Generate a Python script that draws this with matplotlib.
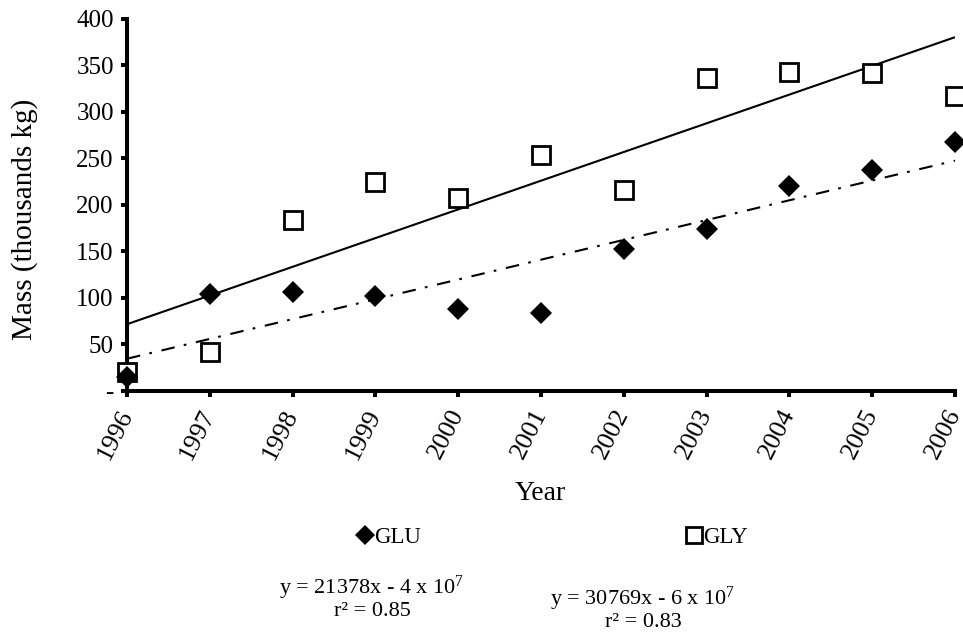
import numpy as np
import matplotlib
matplotlib.use("Agg")
import matplotlib.pyplot as plt

# ---- data ----
years = [1996, 1997, 1998, 1999, 2000, 2001, 2002, 2003, 2004, 2005, 2006]
glu = [15, 104, 106, 102, 88, 83, 152, 174, 220, 237, 267]
gly = [20, 42, 183, 224, 207, 253, 216, 336, 343, 341, 317]
ytick_vals = [0, 50, 100, 150, 200, 250, 300, 350, 400]
ytick_labels = ["-", "50", "100", "150", "200", "250", "300", "350", "400"]
xtick_labels = [str(y) for y in years]
series_names = ["GLU", "GLY"]
eq_glu = ["y = 21378x - 4 x 10$^{7}$", "r\u00b2 = 0.85"]
eq_gly = ["y = 30769x - 6 x 10$^{7}$", "r\u00b2 = 0.83"]

plt.rcParams['font.family'] = ['Liberation Serif', 'DejaVu Serif']
plt.rcParams['mathtext.fontset'] = 'custom'
plt.rcParams['mathtext.rm'] = 'Liberation Serif'
plt.rcParams['mathtext.it'] = 'Liberation Serif'

W, H = 963, 638
fig = plt.figure(figsize=(W / 100, H / 100), dpi=100)
ax = fig.add_axes([127 / W, 1 - 390.6 / H, (955 - 127) / W, (390.6 - 18.5) / H])

x = np.array(years, dtype=float)
# trend lines (least squares fits of the data)
p_glu = np.polyfit(x, glu, 1)
p_gly = np.polyfit(x, gly, 1)
xx = np.array([years[0], years[-1]], dtype=float)
ax.plot(xx, np.polyval(p_gly, xx), color='black', lw=1.5, solid_capstyle='butt', zorder=2)
ax.plot(xx, np.polyval(p_glu, xx), color='black', lw=1.5,
        ls=(0, (6.5, 4.5, 1.3, 4.7)), zorder=2)

h2, = ax.plot(years, gly, ls='none', marker='s', ms=13, mfc='white', mec='black',
              mew=2.0, zorder=3, clip_on=False, label=series_names[1])
h1, = ax.plot(years, glu, ls='none', marker='D', ms=11.5, mfc='black', mec='black',
              mew=0, zorder=4, clip_on=False, label=series_names[0])

ax.set_xlim(years[0], years[-1])
ax.set_ylim(0, 400)
ax.set_xticks(years)
ax.set_xticklabels(xtick_labels, rotation=63, ha='right', va='center',
                   rotation_mode='anchor', fontsize=19)
ax.set_yticks(ytick_vals)
ax.set_yticklabels(ytick_labels, fontsize=18)
for s in ['top', 'right']:
    ax.spines[s].set_visible(False)
for s in ['left', 'bottom']:
    ax.spines[s].set_linewidth(2.9)
ax.tick_params(axis='both', direction='out', length=4.5, width=2.9, pad=5)
ax.tick_params(axis='x', pad=10)

ax.set_ylabel("Mass (thousands kg)", fontsize=21)
ax.yaxis.set_label_coords((38 - 127) / 828, 0.46)
fig.text(540 / W, 1 - 493 / H, "Year", fontsize=20, ha='center', va='center')

leg = fig.legend(handles=[h1, h2], labels=series_names, loc='center',
                 bbox_to_anchor=(553 / W, 1 - 537 / H), ncol=2, frameon=False,
                 fontsize=16.5, handlelength=0.6, handletextpad=0.1,
                 columnspacing=11.6, markerscale=0.85)

fig.text(372 / W, 1 - 597 / H, eq_glu[0] + "\n" + eq_glu[1], fontsize=16,
         ha='center', va='center', multialignment='center', linespacing=1.0)
fig.text(643 / W, 1 - 608 / H, eq_gly[0] + "\n" + eq_gly[1], fontsize=16,
         ha='center', va='center', multialignment='center', linespacing=1.0)

fig.savefig("out.png", dpi=100)
